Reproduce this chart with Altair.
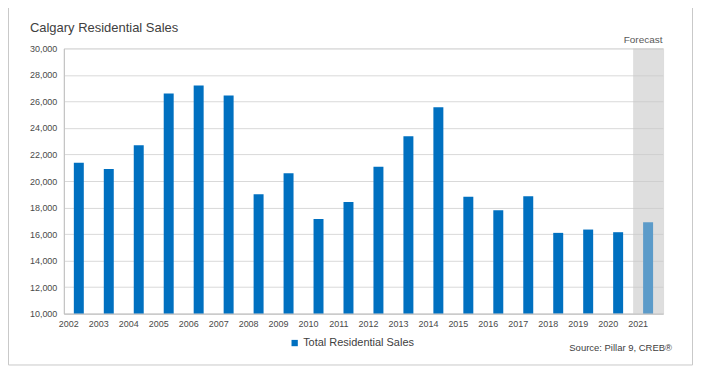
import altair as alt
import pandas as pd

years = [str(y) for y in range(2002, 2022)]
sales = [21380, 20900, 22700, 26600, 27200, 26450, 19000, 20580, 17140, 18420,
         21080, 23380, 25560, 18820, 17800, 18850, 16090, 16340, 16140, 16890]
kinds = ["Total Residential Sales"] * 19 + ["Forecast"]
y_ticks = list(range(10000, 30001, 2000))

df = pd.DataFrame({"year": years, "sales": sales, "kind": kinds})

FONT = "Liberation Sans"
W, H = 601, 266

xs = alt.Scale(domain=years, paddingInner=0, paddingOuter=0)
ys = alt.Scale(domain=[10000, 30000], nice=False, zero=False)

one = alt.InlineData(values=[{}])

border = alt.Chart(one).mark_rect(fillOpacity=0, stroke="#c9c9c9", strokeWidth=1).encode(
    x=alt.value(-55.5), x2=alt.value(630.5), y=alt.value(-42.5), y2=alt.value(317.5)
)

shade = alt.Chart(alt.InlineData(values=[{"year": "2021"}])).mark_rect(
    color="#c8c8c8", opacity=0.6
).encode(
    x=alt.X("year:N", scale=xs),
    y=alt.value(0), y2=alt.value(H)
)

bars = alt.Chart(df).mark_bar(size=10).encode(
    x=alt.X("year:N", scale=xs, sort=years,
            axis=alt.Axis(title=None, labelAngle=0, labelFontSize=9, labelFont=FONT,
                          labelColor="#4a4a4a", domainColor="#bfbfbf", ticks=False,
                          labelPadding=10, grid=False)),
    y=alt.Y("sales:Q", scale=ys,
            axis=alt.Axis(title=None, values=y_ticks, labelExpr="format(datum.value, ',')",
                          labelFontSize=9, labelFont=FONT, labelColor="#4a4a4a",
                          domainColor="#bfbfbf", ticks=False, labelPadding=7,
                          gridColor="#d9d9d9")),
    y2=alt.datum(10000),
    color=alt.Color("kind:N",
                    scale=alt.Scale(domain=["Total Residential Sales", "Forecast"],
                                    range=["#0070c0", "#5c9bc9"]),
                    legend=alt.Legend(title=None, values=["Total Residential Sales"],
                                      orient="none", legendX=226, legendY=290,
                                      direction="horizontal", symbolType="square",
                                      symbolSize=40, symbolStrokeWidth=0,
                                      labelFontSize=11, labelFont=FONT,
                                      labelColor="#404040", labelOffset=3, padding=0)),
)

title = alt.Chart(one).mark_text(
    align="left", baseline="alphabetic", fontSize=13, font=FONT, color="#404040"
).encode(x=alt.value(-34), y=alt.value(-16), text=alt.value("Calgary Residential Sales"))

forecast = alt.Chart(one).mark_text(
    align="center", baseline="alphabetic", fontSize=10, font=FONT, color="#595959", dx=-5
).encode(x=alt.X("yr:N", scale=xs), y=alt.value(-5), text=alt.value("Forecast")).transform_calculate(yr="'2021'")

source = alt.Chart(one).mark_text(
    align="right", baseline="alphabetic", fontSize=9.5, font=FONT, color="#404040"
).encode(x=alt.value(610), y=alt.value(303), text=alt.value("Source: Pillar 9, CREB®"))

chart = alt.layer(border, shade, bars, title, forecast, source).properties(
    width=W, height=H,
    autosize=alt.AutoSizeParams(type="none"),
    padding={"left": 56, "top": 40, "right": 30, "bottom": 52},
).configure_view(stroke="#bfbfbf", strokeWidth=1).configure(background="white")

chart.save("out.html", embed_options={"renderer": "svg", "actions": False})
